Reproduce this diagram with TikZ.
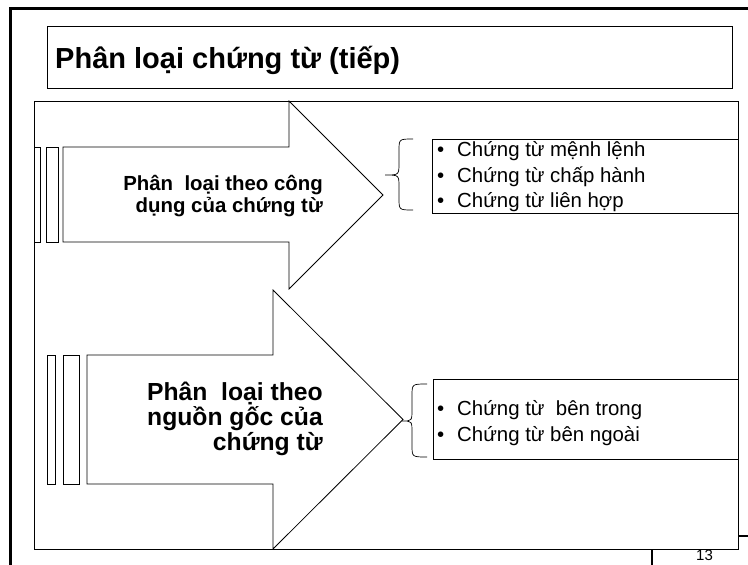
\documentclass[tikz,border=0pt]{standalone}
\usepackage{fontspec}
\setmainfont{Liberation Sans}

\begin{document}
\begin{tikzpicture}[x=1pt,y=-1pt,
  frame/.style={line width=3pt},
  plain/.style={draw, line width=0.8pt, fill=white},
  emptybox/.style={draw, line width=0.8pt, fill=white, anchor=north west, inner sep=0},
  headtxt/.style={font=\fontsize{29}{33}\selectfont\bfseries, anchor=base west, inner sep=0},
  smalltxt/.style={font=\fontsize{20.4}{22}\selectfont\bfseries, anchor=base east, inner sep=0},
  largetxt/.style={font=\fontsize{24.7}{25}\selectfont\bfseries, anchor=base east, inner sep=0},
  itemtxt/.style={font=\fontsize{20.4}{27}\selectfont, anchor=base west, inner sep=0},
  brc/.style={draw, line width=0.7pt}
  ]
  \useasboundingbox (0,0) rectangle (748,565);

  % page number and frame edges
  \node[font=\fontsize{15}{17}\selectfont, anchor=base west, inner sep=0] (pagenum) at (696,560) {13};
  \draw[frame] (10,565) -- (10,8) -- (748,8);
  \draw[line width=1.3pt] (652,550) -- (652,565);
  \draw[line width=1.3pt] (738,536) -- (748,536);

  % title
  \node[emptybox, minimum width=685, minimum height=62] (titlebox) at (47,26) {};
  \node[headtxt] (title) at (55,68) {Phân loại chứng từ (tiếp)};

  \node[emptybox, minimum width=704, minimum height=448] (mainbox) at (34,101) {};

  % upper arrow
  \draw[plain] (63,147) -- (289,147) -- (289,101) -- (383,195) -- (289,289) -- (289,242) -- (63,242) -- cycle;
  \draw[plain] (34,147) rectangle (40,242) (46,147) rectangle (58,242);
  \node[smalltxt] (usetxt1) at (323,190.5) {Phân~ loại theo công};
  \node[smalltxt] (usetxt2) at (323,212.5) {dụng của chứng từ};

  % lower arrow
  \draw[plain] (87,355) -- (273,355) -- (273,290) -- (403,419.5) -- (273,549) -- (273,484) -- (87,484) -- cycle;
  \draw[plain] (47,355) rectangle (55,484) (63,355) rectangle (79,484);
  \node[largetxt] (srctxt1) at (323,400.5) {Phân~ loại theo};
  \node[largetxt] (srctxt2) at (323,425.5) {nguồn gốc của};
  \node[largetxt] (srctxt3) at (323,450.5) {chứng từ};

  % lists
  \node[emptybox, minimum width=306, minimum height=74] (usebox) at (432,139) {};
  \node[itemtxt] (useitem1) at (437,156.5) {\makebox[20pt][l]{•}Chứng từ mệnh lệnh};
  \node[itemtxt] (useitem2) at (437,182) {\makebox[20pt][l]{•}Chứng từ chấp hành};
  \node[itemtxt] (useitem3) at (437,207.5) {\makebox[20pt][l]{•}Chứng từ liên hợp};

  \node[emptybox, minimum width=305, minimum height=80] (srcbox) at (433,379) {};
  \node[itemtxt] (srcitem1) at (437,415) {\makebox[20pt][l]{•}Chứng từ~ bên trong};
  \node[itemtxt] (srcitem2) at (437,441) {\makebox[20pt][l]{•}Chứng từ bên ngoài};

  % braces
  \draw[brc] (413,139) .. controls (399,139) .. (399,151) -- (399,163) .. controls (399,175) .. (385,175)
    .. controls (399,175) .. (399,187) -- (399,198) .. controls (399,210) .. (413,210);
  \draw[brc] (427,384) .. controls (412,384) .. (412,396) -- (412,409) .. controls (412,421) .. (402,421)
    .. controls (412,421) .. (412,433) -- (412,445) .. controls (412,457) .. (427,457);
\end{tikzpicture}
\end{document}
